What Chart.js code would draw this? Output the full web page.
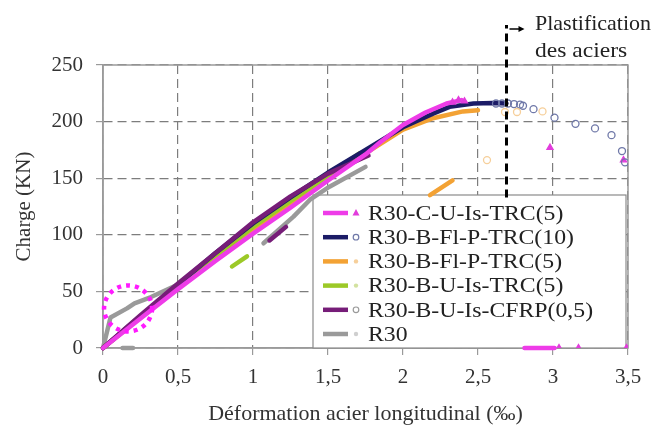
<!DOCTYPE html>
<html>
<head>
<meta charset="utf-8">
<script src="https://cdn.jsdelivr.net/npm/chart.js@4"></script>
<style>
  body { margin: 0; background: #fff; }
  #wrap { width: 662px; height: 430px; }
</style>
</head>
<body>
<div id="wrap"><canvas id="chart" width="662" height="430"></canvas></div>
<script>
// axes
const xTicks = [0, 0.5, 1, 1.5, 2, 2.5, 3, 3.5];
const yTicks = [0, 50, 100, 150, 200, 250];

const seriesNames = ['R30-C-U-Is-TRC(5)', 'R30-B-Fl-P-TRC(10)', 'R30-B-Fl-P-TRC(5)',
  'R30-B-U-Is-TRC(5)', 'R30-B-U-Is-CFRP(0,5)', 'R30'];
const seriesColors = ['#ee3ce8', '#1b1b66', '#f3a234', '#9cc927', '#761d78', '#9a9a9a'];
const markerColors = ['#e23cdc', '#6f78a8', '#f6cf9a', '#d3e2a0', '#9a9a9a', '#cfcfcf'];

// strain (per mille) / load (kN) ; null = break in the curve
const ctuStrain = [0, 0.25, 0.5, 0.75, 1.0, 1.25, 1.5, 1.75, 1.85, 2.0, 2.15, 2.29, 2.39, null, 2.81, 3.01];
const ctuLoad   = [0, 26, 52, 77, 101, 124, 148, 171, 182, 197, 208, 216, 219, null, 0, 0];
const ctuPtsX = [2.33, 2.37, 2.41, 2.98, 3.47, 3.04, 3.17, 3.49];
const ctuPtsY = [217, 219, 218, 177, 166, 0, 0, 0];

const fp10Strain = [0, 0.25, 0.5, 0.75, 1.0, 1.25, 1.5, 1.75, 2.0, 2.2, 2.31, 2.47, 2.6, 2.69];
const fp10Load   = [0, 28, 56, 84, 110, 133, 155, 175, 195, 207, 213, 216, 216.5, 216];
const fp10PtsX = [2.62, 2.66, 2.7, 2.74, 2.78, 2.8, 2.87, 3.01, 3.15, 3.28, 3.39, 3.46, 3.48];
const fp10PtsY = [216, 216, 216, 215.5, 215, 214, 211, 203.5, 198, 194, 188, 174, 164];

const fp5Strain = [0, 0.25, 0.5, 0.75, 1.0, 1.25, 1.5, 1.75, 2.0, 2.2, 2.4, 2.5, null, 2.18, 2.33];
const fp5Load   = [0, 27, 54, 80, 105, 128, 150, 172, 193, 203, 209, 210, null, 135, 148];
const fp5PtsX = [2.56, 2.68, 2.76, 2.93];
const fp5PtsY = [166, 208.5, 208.5, 209];

const uTrcStrain = [0, 0.25, 0.5, 0.75, 1.0, 1.25, 1.5, 1.71, null, 0.86, 0.96];
const uTrcLoad   = [0, 28, 55, 81, 107, 130, 152, 172, null, 72, 81];

const cfrpStrain = [0, 0.25, 0.5, 0.75, 1.0, 1.25, 1.5, 1.77, null, 1.11, 1.22];
const cfrpLoad   = [0, 29, 57, 84, 111, 134, 154, 170, null, 95, 107];

const r30Strain = [0, 0.05, 0.16, 0.21, 0.32, 0.5, 0.75, 1.0, null, 1.07, 1.27, 1.38, 1.51, 1.75, null, 0.13, 0.2];
const r30Load   = [0, 27, 35, 39.5, 45, 56, 79, 102, null, 92.5, 116, 131, 142.5, 160, null, 0, 0];

// annotations
const plastStrain = 2.69, plastLoadLow = 133;
const circleStrain = 0.167, circleLoad = 35;

function pts(xs, ys) {
  return xs.map((x, i) => (x === null ? { x: NaN, y: null } : { x: x, y: ys[i] }));
}

const serif = "'Liberation Serif', 'Times New Roman', serif";

function lineSet(xs, ys, idx, order) {
  return {
    data: pts(xs, ys), showLine: true, spanGaps: false, clip: 6,
    borderColor: seriesColors[idx], borderWidth: 4.5, pointRadius: 0,
    borderCapStyle: 'round', borderJoinStyle: 'round', tension: 0, order: order
  };
}
function markSet(xs, ys, idx, style, order) {
  return {
    data: pts(xs, ys), showLine: false, pointStyle: style, pointRadius: 3.5,
    borderColor: markerColors[idx], backgroundColor: style === 'triangle' ? markerColors[idx] : 'rgba(0,0,0,0)',
    borderWidth: 1.3, order: order
  };
}

const datasets = [
  lineSet(r30Strain, r30Load, 5, 6),
  lineSet(fp5Strain, fp5Load, 2, 5),
  lineSet(uTrcStrain, uTrcLoad, 3, 4),
  lineSet(fp10Strain, fp10Load, 1, 3),
  lineSet(cfrpStrain, cfrpLoad, 4, 2),
  lineSet(ctuStrain, ctuLoad, 0, 1),
  markSet(fp5PtsX, fp5PtsY, 2, 'circle', 0),
  markSet(fp10PtsX, fp10PtsY, 1, 'circle', 0),
  markSet(ctuPtsX, ctuPtsY, 0, 'triangle', 0)
];

function drawLegend(ctx) {
  const bx = 313, by = 195, bw = 313, bh = 153;
  ctx.save();
  ctx.fillStyle = '#fff';
  ctx.fillRect(bx, by, bw, bh);
  ctx.strokeStyle = '#8a8a8a';
  ctx.lineWidth = 1.2;
  ctx.strokeRect(bx, by, bw, bh);
  ctx.font = '22px ' + serif;
  ctx.textBaseline = 'middle';
  seriesNames.forEach((name, i) => {
    const cy = by + 18 + i * 24.2;
    ctx.strokeStyle = seriesColors[i];
    ctx.lineWidth = 4.5;
    ctx.beginPath(); ctx.moveTo(bx + 10, cy); ctx.lineTo(bx + 35, cy); ctx.stroke();
    ctx.strokeStyle = markerColors[i];
    ctx.fillStyle = markerColors[i];
    ctx.lineWidth = 1.2;
    const mx = bx + 43;
    if (i === 0) {
      ctx.beginPath(); ctx.moveTo(mx, cy - 4); ctx.lineTo(mx + 3.5, cy + 2.5); ctx.lineTo(mx - 3.5, cy + 2.5); ctx.closePath(); ctx.fill();
    } else if (i === 1 || i === 4) {
      ctx.beginPath(); ctx.arc(mx, cy, 2.8, 0, Math.PI * 2); ctx.stroke();
    } else {
      ctx.beginPath(); ctx.arc(mx, cy, 2.2, 0, Math.PI * 2); ctx.fill();
    }
    ctx.fillStyle = '#222';
    ctx.save();
    ctx.translate(bx + 55, cy + 1); ctx.scale(1.08, 1);
    ctx.fillText(name, 0, 0);
    ctx.restore();
  });
  ctx.restore();
}

const extras = {
  id: 'extras',
  beforeDatasetsDraw(chart) {
    const { ctx, chartArea: a } = chart;
    ctx.save();
    ctx.strokeStyle = '#9a9a9a';
    ctx.lineWidth = 1.5;
    ctx.strokeRect(a.left, a.top, a.right - a.left, a.bottom - a.top);
    ctx.restore();
    drawLegend(ctx);
  },
  afterDraw(chart) {
    const { ctx } = chart;
    const xs = chart.scales.x, ys = chart.scales.y;

    // dotted circle
    ctx.save();
    ctx.strokeStyle = '#ff1aff';
    ctx.lineWidth = 4.5;
    ctx.setLineDash([4, 5]);
    ctx.beginPath();
    ctx.ellipse(xs.getPixelForValue(circleStrain), ys.getPixelForValue(circleLoad), 24, 23, 0, 0, Math.PI * 2);
    ctx.stroke();
    ctx.restore();

    // yield line
    const px = xs.getPixelForValue(plastStrain);
    ctx.save();
    ctx.strokeStyle = '#000';
    ctx.lineWidth = 3;
    ctx.setLineDash([8, 5]);
    ctx.beginPath();
    ctx.moveTo(px, ys.getPixelForValue(plastLoadLow));
    ctx.lineTo(px, 25);
    ctx.stroke();
    ctx.setLineDash([]);
    ctx.lineWidth = 1.5;
    ctx.beginPath();
    ctx.moveTo(px + 3, 29); ctx.lineTo(px + 13, 29); ctx.stroke();
    ctx.fillStyle = '#000';
    ctx.beginPath();
    ctx.moveTo(px + 18, 29); ctx.lineTo(px + 12, 26); ctx.lineTo(px + 12, 32); ctx.closePath(); ctx.fill();
    ctx.fillStyle = '#222';
    ctx.font = '22px ' + serif;
    ctx.textBaseline = 'alphabetic';
    ctx.fillText('Plastification', 535, 30);
    ctx.translate(535, 57); ctx.scale(1.07, 1);
    ctx.fillText('des aciers', 0, 0);
    ctx.restore();
  }
};

new Chart(document.getElementById('chart'), {
  type: 'scatter',
  data: { datasets: datasets },
  options: {
    responsive: false,
    animation: false,
    layout: { padding: { top: 65, right: 34, left: 0, bottom: 0 } },
    plugins: { legend: { display: false }, tooltip: { enabled: false } },
    scales: {
      x: {
        type: 'linear', min: 0, max: 3.5,
        afterBuildTicks: s => { s.ticks = xTicks.map(v => ({ value: v })); },
        afterFit: s => { s.height = 82; },
        grid: { color: '#7d7d7d', lineWidth: 1.2, tickLength: 7, tickColor: '#9a9a9a' },
        border: { display: true, color: '#9a9a9a', width: 1.5, dash: [9, 5] },
        ticks: {
          padding: 10, color: '#333', font: { family: serif, size: 21 },
          callback: v => String(v).replace('.', ',')
        },
        title: {
          display: true, text: 'Déformation acier longitudinal (‰)', color: '#333',
          font: { family: serif, size: 22 }, padding: { top: 0, bottom: 3 }
        }
      },
      y: {
        type: 'linear', min: 0, max: 250,
        afterBuildTicks: s => { s.ticks = yTicks.map(v => ({ value: v })); },
        afterFit: s => { s.width = 103; },
        grid: { color: '#7d7d7d', lineWidth: 1.2, tickLength: 7, tickColor: '#9a9a9a' },
        border: { display: true, color: '#9a9a9a', width: 1.5, dash: [9, 5] },
        ticks: { padding: 13, color: '#333', font: { family: serif, size: 21 } },
        title: {
          display: true, text: 'Charge (KN)', color: '#333',
          font: { family: serif, size: 21 }, padding: { top: 12, bottom: 0 }
        }
      }
    }
  },
  plugins: [extras]
});
</script>
</body>
</html>
